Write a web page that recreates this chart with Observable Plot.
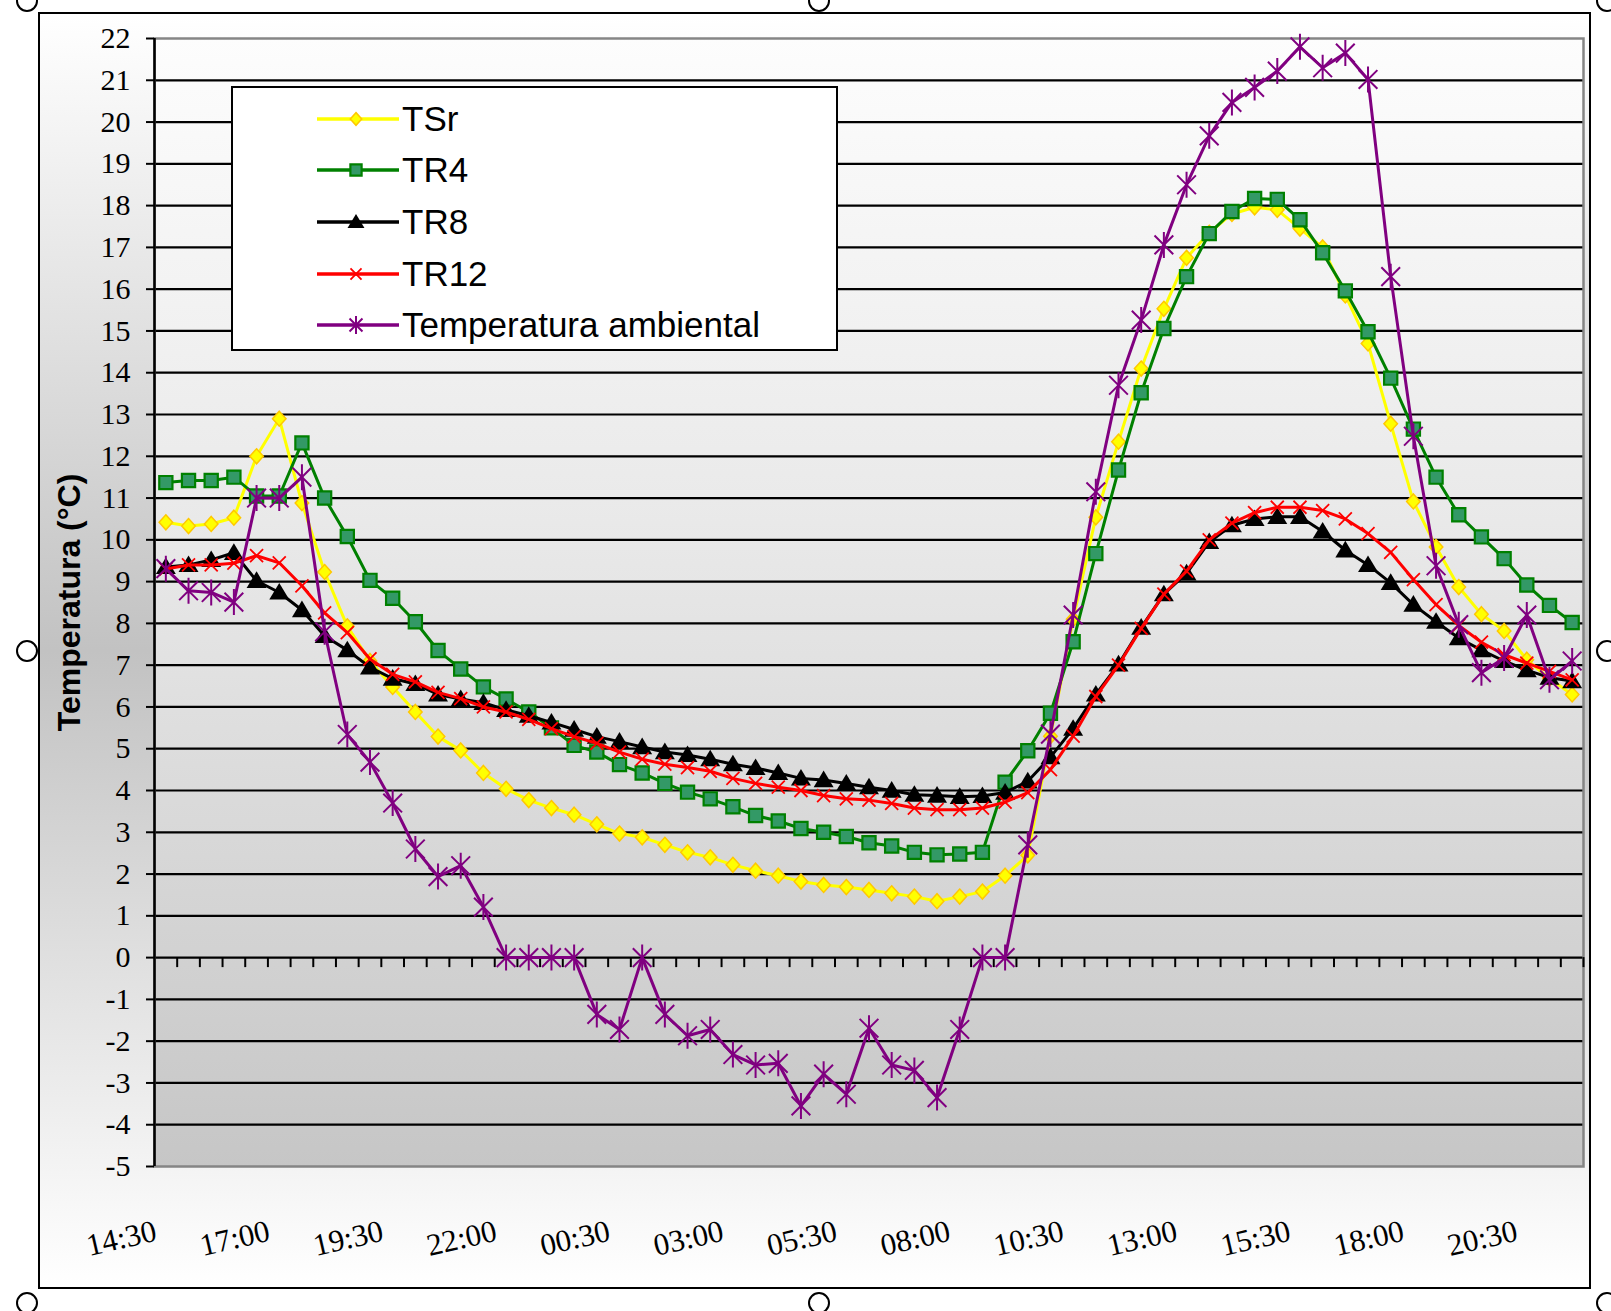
<!DOCTYPE html>
<html>
<head>
<meta charset="utf-8">
<script src="https://cdn.jsdelivr.net/npm/d3@7"></script>
<script src="https://cdn.jsdelivr.net/npm/@observablehq/plot@0.6"></script>
<style>
  html, body { margin: 0; padding: 0; background: #fff; }
  #page { position: relative; width: 1611px; height: 1311px; overflow: hidden; background: #fff; }
  #chartArea {
    position: absolute; left: 38px; top: 12px; width: 1553px; height: 1277px;
    box-sizing: border-box; border: 2.5px solid #000;
    background: linear-gradient(to bottom, #ffffff 0%, #c2c2c2 50%, #ffffff 100%);
  }
  #plotHolder { position: absolute; left: 0; top: 0; }
  #legend {
    position: absolute; left: 231px; top: 86px; width: 607px; height: 265px;
    box-sizing: border-box; border: 2.5px solid #000; background: #fff;
    font-family: "Liberation Sans", Arial, sans-serif; font-size: 35px; color: #000;
  }
  .row { position: absolute; left: 0; height: 40px; display: flex; align-items: center; }
  .row svg { position: absolute; left: 84px; top: 10px; }
  .row span { position: absolute; left: 169px; white-space: nowrap; line-height: 40px; top: 0; }
  .handle {
    position: absolute; width: 18px; height: 18px; border: 2px solid #000; border-radius: 50%;
    background: #fff; transform: translate(-50%, -50%);
  }
</style>
</head>
<body>
<div id="page">
  <div id="chartArea"></div>
  <div id="plotHolder"></div>
  <div id="legend"></div>
</div>
<script>
// Half-hourly readings, 14:30 of the first day to 21:30 of the next
const times = [
  "14:30","15:00","15:30","16:00","16:30","17:00","17:30","18:00","18:30","19:00",
  "19:30","20:00","20:30","21:00","21:30","22:00","22:30","23:00","23:30","00:00",
  "00:30","01:00","01:30","02:00","02:30","03:00","03:30","04:00","04:30","05:00",
  "05:30","06:00","06:30","07:00","07:30","08:00","08:30","09:00","09:30","10:00",
  "10:30","11:00","11:30","12:00","12:30","13:00","13:30","14:00","14:30","15:00",
  "15:30","16:00","16:30","17:00","17:30","18:00","18:30","19:00","19:30","20:00",
  "20:30","21:00","21:30"
];

// Temperatures (°C)
const tsr = [
  10.42, 10.33, 10.38, 10.53, 12.0, 12.9, 10.88, 9.23, 7.93, 7.1,
  6.48, 5.88, 5.29, 4.96, 4.42, 4.04, 3.77, 3.58, 3.42, 3.19,
  2.97, 2.88, 2.70, 2.52, 2.40, 2.22, 2.08, 1.96, 1.82, 1.74,
  1.69, 1.62, 1.54, 1.46, 1.35, 1.46, 1.58, 1.96, 2.45, 5.30,
  8.10, 10.54, 12.35, 14.10, 15.53, 16.75, 17.35, 17.80, 17.96, 17.90,
  17.45, 17.00, 15.85, 14.70, 12.78, 10.92, 9.83, 8.87, 8.22, 7.82,
  7.13, 6.68, 6.30
];
const tr4 = [
  11.37, 11.42, 11.42, 11.50, 11.05, 11.05, 12.32, 11.00, 10.08, 9.03,
  8.60, 8.04, 7.35, 6.91, 6.48, 6.19, 5.88, 5.50, 5.08, 4.92,
  4.62, 4.42, 4.17, 3.96, 3.80, 3.61, 3.40, 3.27, 3.09, 3.00,
  2.90, 2.75, 2.67, 2.52, 2.46, 2.48, 2.52, 4.20, 4.95, 5.85,
  7.56, 9.67, 11.67, 13.52, 15.06, 16.30, 17.33, 17.86, 18.17, 18.15,
  17.66, 16.87, 15.96, 14.98, 13.87, 12.65, 11.50, 10.60, 10.07, 9.55,
  8.92, 8.43, 8.02
];
const tr8 = [
  9.35, 9.40, 9.52, 9.69, 9.02, 8.74, 8.32, 7.70, 7.36, 6.95,
  6.68, 6.55, 6.30, 6.19, 6.10, 5.93, 5.79, 5.63, 5.46, 5.29,
  5.17, 5.04, 4.92, 4.85, 4.75, 4.63, 4.54, 4.42, 4.29, 4.25,
  4.17, 4.08, 4.00, 3.90, 3.88, 3.85, 3.87, 3.95, 4.22, 4.80,
  5.48, 6.30, 7.02, 7.90, 8.70, 9.20, 9.95, 10.35, 10.50, 10.55,
  10.55, 10.20, 9.75, 9.40, 8.97, 8.45, 8.04, 7.65, 7.36, 7.10,
  6.88, 6.70, 6.62
];
const tr12 = [
  9.30, 9.40, 9.40, 9.44, 9.62, 9.45, 8.90, 8.25, 7.78, 7.15,
  6.78, 6.60, 6.35, 6.20, 6.00, 5.88, 5.70, 5.48, 5.29, 5.13,
  4.92, 4.75, 4.63, 4.55, 4.46, 4.29, 4.17, 4.08, 4.00, 3.88,
  3.80, 3.77, 3.69, 3.58, 3.54, 3.54, 3.58, 3.72, 3.95, 4.50,
  5.30, 6.25, 7.00, 7.88, 8.70, 9.25, 10.00, 10.40, 10.65, 10.78,
  10.78, 10.70, 10.50, 10.15, 9.70, 9.05, 8.45, 7.95, 7.55, 7.25,
  7.05, 6.85, 6.65
];
const ambiente = [
  9.31, 8.78, 8.74, 8.51, 11.00, 11.00, 11.50, 7.80, 5.34, 4.68,
  3.70, 2.60, 1.94, 2.20, 1.21, 0, 0, 0, 0, -1.36,
  -1.72, 0, -1.36, -1.87, -1.72, -2.32, -2.57, -2.53, -3.55, -2.79,
  -3.27, -1.69, -2.57, -2.70, -3.35, -1.72, 0, 0, 2.70, 5.35,
  8.20, 11.15, 13.70, 15.26, 17.06, 18.50, 19.67, 20.47, 20.83, 21.22,
  21.80, 21.30, 21.65, 21.02, 16.30, 12.48, 9.38, 7.97, 6.82, 7.17,
  8.20, 6.65, 7.10
];

// Axis ticks
const yTicks = [-5,-4,-3,-2,-1,0,1,2,3,4,5,6,7,8,9,10,11,12,13,14,15,16,17,18,19,20,21,22];
const xLabelIdx = [0,5,10,15,20,25,30,35,40,45,50,55,60];
const seriesNames = ["TSr", "TR4", "TR8", "TR12", "Temperatura ambiental"];
const yTitle = "Temperatura (°C)";

// Marker shapes (size → radius)
const rad = s => Math.sqrt(s / Math.PI);
const diamondSym = {draw(c, s) { const r = rad(s); c.moveTo(0, -r); c.lineTo(r * 0.9, 0); c.lineTo(0, r); c.lineTo(-r * 0.9, 0); c.closePath(); }};
const squareSym = {draw(c, s) { const r = rad(s); c.rect(-r, -r, 2 * r, 2 * r); }};
const triangleSym = {draw(c, s) { const r = rad(s); c.moveTo(0, -r); c.lineTo(r * 1.05, r * 0.75); c.lineTo(-r * 1.05, r * 0.75); c.closePath(); }};
const timesSym = {draw(c, s) { const r = rad(s); c.moveTo(-r, -r); c.lineTo(r, r); c.moveTo(r, -r); c.lineTo(-r, r); }};
const starSym = {draw(c, s) { const r = rad(s); const d = r * 0.72;
  c.moveTo(-d, -d); c.lineTo(d, d); c.moveTo(d, -d); c.lineTo(-d, d); c.moveTo(0, -r); c.lineTo(0, r); }};

const styles = [
  {values: tsr, line: "#ffff00", symbol: diamondSym, r: 7.5, fill: "#ffff00", stroke: "#ffc800", sw: 1.5},
  {values: tr4, line: "#008000", symbol: squareSym, r: 6.6, fill: "#339966", stroke: "#008000", sw: 2.2},
  {values: tr8, line: "#000000", symbol: triangleSym, r: 9.5, fill: "#000000", stroke: "none", sw: 0},
  {values: tr12, line: "#ff0000", symbol: timesSym, r: 6.5, fill: "none", stroke: "#ff0000", sw: 1.8},
  {values: ambiente, line: "#800080", symbol: starSym, r: 13, fill: "none", stroke: "#800080", sw: 2}
];

const boundaries = times.map((t, i) => i + 0.5);
const gridValues = yTicks.filter(v => v > yTicks[0] && v < yTicks[yTicks.length - 1]);

const seriesMarks = styles.flatMap(s => {
  const rows = s.values.map((v, i) => ({i, v}));
  return [
    Plot.line(rows, {x: "i", y: "v", stroke: s.line, strokeWidth: 3, strokeLinejoin: "round"}),
    Plot.dot(rows, {x: "i", y: "v", symbol: s.symbol, r: s.r, fill: s.fill, stroke: s.stroke, strokeWidth: s.sw})
  ];
});

const chart = Plot.plot({
  width: 1611,
  height: 1311,
  marginLeft: 154,
  marginRight: 28,
  marginTop: 38,
  marginBottom: 145,
  style: {background: "transparent", overflow: "visible", fontFamily: "'Liberation Serif', 'Times New Roman', serif"},
  x: {domain: [-0.5, times.length - 0.5]},
  y: {domain: [yTicks[0], yTicks[yTicks.length - 1]]},
  marks: [
    Plot.frame({fill: "url(#plotBg)"}),
    Plot.ruleY(gridValues, {stroke: "#000", strokeWidth: 2.2}),
    Plot.frame({stroke: "#858585", strokeWidth: 2.5}),
    Plot.ruleX(boundaries, {x: d => d, y1: () => 0, y2: () => 0, insetBottom: -10, stroke: "#000", strokeWidth: 2}),
    ...seriesMarks,
    Plot.ruleX([-0.5], {stroke: "#000", strokeWidth: 2.5}),
    Plot.axisY({ticks: yTicks, tickFormat: d => String(d), tickSize: 8, tickPadding: 16, strokeWidth: 2,
      fontSize: 30, label: null}),
    Plot.axisX({ticks: xLabelIdx, tickFormat: i => times[i], tickSize: 0, tickPadding: 64, tickRotate: -13,
      textAnchor: "end", lineAnchor: "middle", dx: -10, fontSize: 31, label: null}),
    Plot.text([yTitle], {frameAnchor: "left", textAnchor: "middle", rotate: -90, dx: -85, fontSize: 32,
      fontWeight: "bold", fontFamily: "'Liberation Sans', Arial, sans-serif", fill: "#000"})
  ]
});

// vertical shading of the plotting area
const ns = "http://www.w3.org/2000/svg";
const defs = document.createElementNS(ns, "defs");
defs.innerHTML = '<linearGradient id="plotBg" x1="0" y1="0" x2="0" y2="1">' +
  '<stop offset="0" stop-color="#fdfdfd"/><stop offset="0.45" stop-color="#e8e8e8"/><stop offset="1" stop-color="#c6c6c6"/></linearGradient>';
chart.insertBefore(defs, chart.firstChild);
document.getElementById("plotHolder").appendChild(chart);

// legend box
const legend = document.getElementById("legend");
const rowCenters = [31, 81.5, 134, 185.5, 237];
styles.forEach((s, k) => {
  const row = document.createElement("div");
  row.className = "row";
  row.style.top = (rowCenters[k] - 20) + "px";
  const sv = d3.create("svg").attr("width", 84).attr("height", 20);
  sv.append("line").attr("x1", 0).attr("x2", 82).attr("y1", 10).attr("y2", 10)
    .attr("stroke", s.line).attr("stroke-width", 3.5);
  sv.append("path").attr("transform", "translate(39,10)")
    .attr("d", d3.symbol(s.symbol, Math.PI * (k === 4 ? 9 : s.r * 0.85) ** 2)())
    .attr("fill", s.fill).attr("stroke", s.stroke).attr("stroke-width", s.sw);
  row.appendChild(sv.node());
  const label = document.createElement("span");
  label.textContent = seriesNames[k];
  row.appendChild(label);
  legend.appendChild(row);
});

// sizing handles of the chart object
const page = document.getElementById("page");
[[27, 1], [819, 1], [1607, 1], [27, 651], [1607, 651], [27, 1303], [819, 1303], [1607, 1303]].forEach(([x, y]) => {
  const h = document.createElement("div");
  h.className = "handle";
  h.style.left = x + "px";
  h.style.top = y + "px";
  page.appendChild(h);
});
</script>
</body>
</html>
